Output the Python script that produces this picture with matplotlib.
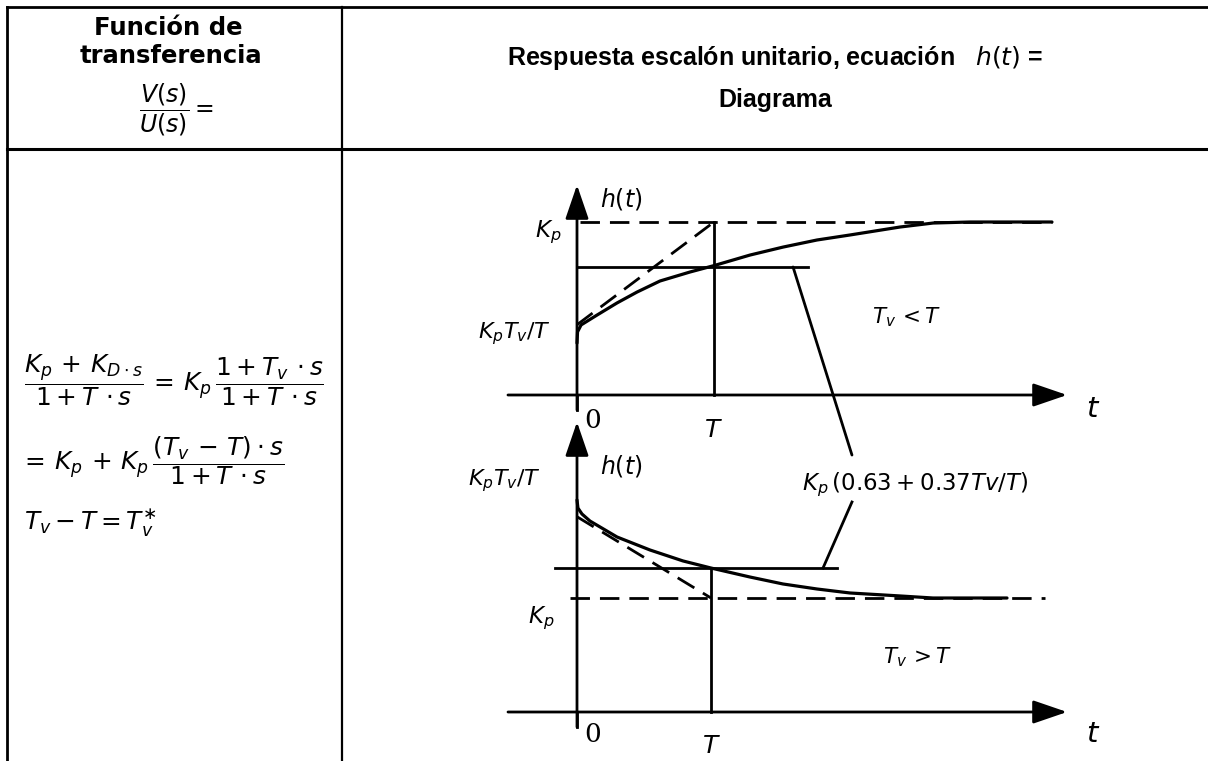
import matplotlib
matplotlib.use("Agg")
import matplotlib.pyplot as plt
from matplotlib.patches import ConnectionPatch

# the reference is drawn wide: DejaVu matches its glyph widths better than Arial
plt.rcParams["font.family"] = ["DejaVu Sans"]
plt.rcParams["mathtext.fontset"] = "dejavusans"

W, H = 1208, 761

# --- data (t in units of T, h in units of Kp) ---
# upper diagram: Tv < T
t_up = [0.000, 0.004, 0.030, 0.146, 0.292, 0.438, 0.606, 0.825, 1.000,
        1.263, 1.504, 1.752, 1.993, 2.358, 2.599, 2.869, 3.467]
h_up = [0.300, 0.365, 0.405, 0.462, 0.532, 0.595, 0.659, 0.711, 0.748,
        0.809, 0.855, 0.896, 0.925, 0.971, 0.994, 1.000, 1.000]
tangent_up = ([0.0, 1.0], [0.406, 1.0])
level_up = 0.74          # Kp(0.63 + 0.37 Tv/T)
level_up_end = 1.686

# lower diagram: Tv > T
t_low = [0.000, 0.007, 0.037, 0.097, 0.299, 0.545, 0.791, 1.000, 1.291,
         1.537, 1.791, 2.037, 2.410, 2.657, 3.209]
h_low = [1.860, 1.789, 1.737, 1.675, 1.535, 1.421, 1.325, 1.263, 1.184,
         1.123, 1.079, 1.044, 1.018, 1.000, 1.000]
tangent_low = ([0.0, 1.0], [1.713, 1.0])
level_low = 1.263
level_low_span = (-0.164, 1.94)

KP = 1.0
T_MARK = 1.0


def diagram_axes(fig, left, right, top, bottom, x0, xunit, y0, yunit):
    """Axes whose data units map onto the given pixel box."""
    ax = fig.add_axes([left / W, 1 - bottom / H, (right - left) / W, (bottom - top) / H])
    ax.set_xlim((left - x0) / xunit, (right - x0) / xunit)
    ax.set_ylim((y0 - bottom) / yunit, (y0 - top) / yunit)
    ax.axis("off")
    return ax


def arrow(ax, start, end):
    ax.annotate("", xy=end, xytext=start,
                arrowprops=dict(arrowstyle="-|>,head_length=1.05,head_width=0.36",
                                lw=2.0, color="black", mutation_scale=20,
                                shrinkA=0, shrinkB=0),
                annotation_clip=False)


fig = plt.figure(figsize=(W / 100, H / 100), dpi=100)
bg = fig.add_axes([0, 0, 1, 1])
bg.set_xlim(0, W)
bg.set_ylim(H, 0)
bg.axis("off")

# table frame
bg.plot([7, W], [7, 7], color="black", lw=2.0)
bg.plot([7, W], [149, 149], color="black", lw=2.2)
bg.plot([7, 7], [7, H], color="black", lw=2.0)
bg.plot([342, 342], [7, H], color="black", lw=1.6)

# header texts
bg.text(168, 35, "Función de", ha="center", va="baseline", fontsize=17.5, fontweight="bold")
bg.text(171, 63, "transferencia", ha="center", va="baseline", fontsize=17.5, fontweight="bold")
bg.text(176, 110, r"$\dfrac{V(s)}{U(s)} =$", ha="center", va="center", fontsize=17)
bg.text(775, 65, r"Respuesta escalón unitario, ecuación   $h(t)$ =", ha="center",
        va="baseline", fontsize=18, fontweight="bold", family="Liberation Sans")
bg.text(775, 107, "Diagrama", ha="center", va="baseline", fontsize=18, fontweight="bold",
        family="Liberation Sans")

# transfer function equations
bg.text(24, 380, r"$\dfrac{K_p\, +\, K_{D\cdot s}}{1 + T\,\cdot s} \,=\, K_p\,\dfrac{1 + T_v\,\cdot s}{1 + T\,\cdot s}$",
        ha="left", va="center", fontsize=17.8)
bg.text(20, 461, r"$=\, K_p\, +\, K_p\,\dfrac{\left(T_v\, -\, T\right)\cdot s}{1 + T\,\cdot s}$",
        ha="left", va="center", fontsize=17.8)
bg.text(24, 522, r"$T_v - T = T_v^{\ast}$", ha="left", va="center", fontsize=17.8)

# --- upper diagram ---
ax1 = diagram_axes(fig, 450, 1150, 160, 440, 577, 137, 395, 173)
dash = (0, (7, 3.6))
ax1.plot([0.02, 3.467], [KP, KP], color="black", lw=2.0, ls=dash)
ax1.plot(*tangent_up, color="black", lw=2.0, ls=dash)
ax1.plot([T_MARK, T_MARK], [0, KP], color="black", lw=2.0)
ax1.plot([0, level_up_end], [level_up, level_up], color="black", lw=2.0)
ax1.plot(t_up, h_up, color="black", lw=2.3, solid_capstyle="round")
arrow(ax1, (-0.504, 0), (3.577, 0))
arrow(ax1, (0, -0.087), (0, 1.214))
ax1.plot([0, 0], [-0.087, 0], color="black", lw=2.0)

ax1.text(0.168, 1.087, r"$h(t)$", fontsize=17, va="baseline", ha="left")
ax1.text(-0.117, 0.913, r"$K_p$", fontsize=16.5, va="baseline", ha="right")
ax1.text(-0.190, 0.329, r"$K_pT_v/T$", fontsize=16, va="baseline", ha="right")
ax1.text(2.153, 0.416, r"$T_v\, < T$", fontsize=15.5, va="baseline", ha="left")
ax1.text(0.117, -0.191, "0", family="DejaVu Serif", fontsize=19, va="baseline", ha="center")
ax1.text(0.993, -0.243, r"$T$", fontsize=18, va="baseline", ha="center")
ax1.text(3.766, -0.127, r"$t$", fontsize=21, va="baseline", ha="center")

# --- lower diagram ---
ax2 = diagram_axes(fig, 450, 1150, 410, 761, 577, 134, 712, 114)
ax2.plot([-0.05, 3.49], [KP, KP], color="black", lw=2.0, ls=dash)
ax2.plot(*tangent_low, color="black", lw=2.0, ls=dash)
ax2.plot([T_MARK, T_MARK], [0, level_low], color="black", lw=2.0)
ax2.plot(level_low_span, [level_low, level_low], color="black", lw=2.0)
ax2.plot(t_low, h_low, color="black", lw=2.3, solid_capstyle="round")
arrow(ax2, (-0.515, 0), (3.657, 0))
arrow(ax2, (0, -0.132), (0, 2.544))
ax2.plot([0, 0], [-0.132, 0], color="black", lw=2.0)

ax2.text(0.172, 2.096, r"$h(t)$", fontsize=17, va="baseline", ha="left")
ax2.text(-0.269, 1.991, r"$K_pT_v/T$", fontsize=16, va="baseline", ha="right")
ax2.text(-0.172, 0.781, r"$K_p$", fontsize=16.5, va="baseline", ha="right")
ax2.text(2.284, 0.430, r"$T_v\, > T$", fontsize=15.5, va="baseline", ha="left")
ax2.text(0.119, -0.263, "0", family="DejaVu Serif", fontsize=19, va="baseline", ha="center")
ax2.text(1.0, -0.360, r"$T$", fontsize=18, va="baseline", ha="center")
ax2.text(3.851, -0.263, r"$t$", fontsize=21, va="baseline", ha="center")

# shared label with two leader lines
ax2.text(1.679, 1.947, r"$K_p\,\left(0.63 + 0.37Tv/T\right)$", fontsize=16.5,
         va="baseline", ha="left")
con = ConnectionPatch(xyA=(1.577, level_up), coordsA=ax1.transData,
                      xyB=(2.052, 2.254), coordsB=ax2.transData,
                      color="black", lw=2.0)
fig.add_artist(con)
ax2.plot([1.836, 2.052], [level_low, 1.842], color="black", lw=2.0)

fig.savefig("out.png", dpi=100)
